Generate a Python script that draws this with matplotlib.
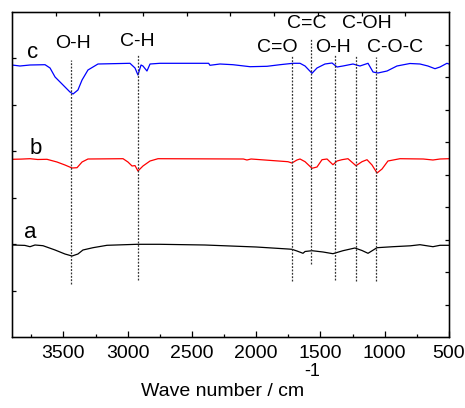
import matplotlib
matplotlib.use("Agg")
import matplotlib.pyplot as plt
import numpy as np

plt.rcParams['font.family'] = ['Liberation Sans', 'DejaVu Sans']

# ---- data (wavenumber cm^-1, relative transmittance a.u.) ----
wn_c = [3900, 3838, 3760, 3643, 3604, 3565, 3503, 3449, 3425, 3387, 3355, 3309, 3231,
        2982, 2943, 2920, 2896, 2881, 2850, 2826, 2749, 2593, 2370, 2360, 2282, 2181,
        2048, 1916, 1815, 1714, 1659, 1620, 1566, 1527, 1465, 1410, 1371, 1325, 1247,
        1193, 1130, 1091, 1053, 982, 905, 804, 726, 664, 609, 570, 516, 500]
tr_c = [272, 271, 272, 272.3, 269, 260, 252, 245, 243, 247, 257, 267, 273,
        273.7, 269, 262, 272, 271, 266, 273, 273.7, 273.7, 273.7, 271.7, 273, 272.3,
        270.3, 270.7, 272.3, 273.7, 273.7, 271, 263.7, 269, 273, 274, 270, 271, 273,
        271, 273.7, 265, 264, 266, 271, 273.5, 273, 271, 268.3, 270, 273.7, 273]

wn_b = [3900, 3830, 3760, 3700, 3628, 3550, 3488, 3433, 3394, 3355, 3309, 3036, 2998,
        2966, 2943, 2920, 2881, 2826, 2764, 2100, 2072, 2040, 1753, 1722, 1683, 1659,
        1620, 1566, 1527, 1488, 1449, 1403, 1371, 1333, 1286, 1224, 1177, 1138, 1099,
        1060, 1021, 975, 881, 700, 625, 570, 500]
tr_b = [177.7, 177.9, 178.3, 177.5, 177.7, 175, 172, 169, 169.3, 175, 178, 178.3, 175,
        171, 171.4, 166, 171, 176, 178.3, 178, 177, 178, 175.3, 174, 177, 178,
        175.3, 168.7, 170, 177.3, 178, 172.3, 176, 177.3, 178.3, 171.3, 175.3, 177.3, 172,
        164, 168, 176, 178.3, 178, 177, 178, 178.3]

wn_a = [3900, 3800, 3760, 3721, 3659, 3565, 3488, 3433, 3387, 3348, 3270, 3161, 2928,
        2749, 2400, 2000, 1753, 1722, 1683, 1636, 1620, 1566, 1480, 1403, 1325, 1232,
        1177, 1130, 1060, 936, 800, 726, 625, 570, 500]
tr_a = [92, 91.6, 90.3, 92, 91.3, 87, 83, 81, 83, 87, 89.3, 91.7, 92.7,
        92.7, 92, 90, 88, 87.7, 86, 83.7, 85.5, 86.3, 85, 83.3, 86.3, 89,
        86.5, 83.7, 89.3, 90.3, 91.2, 92.3, 90.3, 91.7, 91.7]

# assignment lines: position, bottom, top
mark_pos = [3440, 2920, 1725, 1570, 1390, 1225, 1065]
mark_lo = [53, 57, 56, 73, 57, 56, 56]
mark_hi = [277, 282, 282, 298, 282, 281, 280]

labels = ["O-H", "C-H", "C=O", "C=C", "O-H", "C-OH", "C-O-C"]
label_x = [3425, 2928, 1838, 1605, 1403, 1138, 920]
label_y = [294, 295, 289, 314, 289, 314, 289]

curve_names = ["c", "b", "a"]
curve_name_x = [3737, 3713, 3760]
curve_name_y = [285, 188, 105]

xticks_major = [3500, 3000, 2500, 2000, 1500, 1000, 500]

# ---- figure ----
fig = plt.figure(figsize=(4.65, 4.08), dpi=100)
ax = fig.add_axes([12/465, 1-337/408, (449-12)/465, (337-12)/408])

ax.plot(wn_c, tr_c, color='#0000ff', lw=0.9)
ax.plot(wn_b, tr_b, color='#ff0000', lw=0.9)
ax.plot(wn_a, tr_a, color='black', lw=0.9)

for x, lo, hi in zip(mark_pos, mark_lo, mark_hi):
    ax.plot([x, x], [lo, hi], color='#333333', lw=0.9, linestyle=(0, (1.5, 1.2)))

for t, x, y in zip(labels, label_x, label_y):
    ax.text(x, y, t, ha='center', va='center', fontsize=14)
for t, x, y in zip(curve_names, curve_name_x, curve_name_y):
    ax.text(x, y, t, ha='center', va='center', fontsize=16)

ax.set_xlim(3900, 500)
ax.set_ylim(0, 325)
ax.set_xticks(xticks_major)
ax.set_xticks(np.arange(750, 3900, 500), minor=True)
ax.set_yticks(np.arange(1, 7) * 325 / 7)
ax.set_yticklabels([])
ax.tick_params(axis='x', which='major', direction='in', length=4.5, width=0.9, labelsize=14, pad=6)
ax.tick_params(axis='x', which='minor', direction='in', length=2.5, width=0.9)
ax.tick_params(axis='y', direction='in', length=3, width=0.9)
for s in ax.spines.values():
    s.set_linewidth(1.0)

axt = ax.twiny()
axt.set_xlim(0, 10)
axt.set_xticks(np.arange(1, 10))
axt.set_xticklabels([])
axt.tick_params(axis='x', direction='in', length=3, width=0.9)

axr = ax.twinx()
axr.set_ylim(0, 10)
axr.set_yticks(np.arange(1, 10))
axr.set_yticklabels([])
axr.tick_params(axis='y', direction='in', length=3, width=0.9)

fig.text(223/465, 1-391/408, "Wave number / cm", ha='center', va='center', fontsize=14)
fig.text(312/465, 1-372/408, "-1", ha='center', va='center', fontsize=13)

fig.savefig("out.png", dpi=100)
